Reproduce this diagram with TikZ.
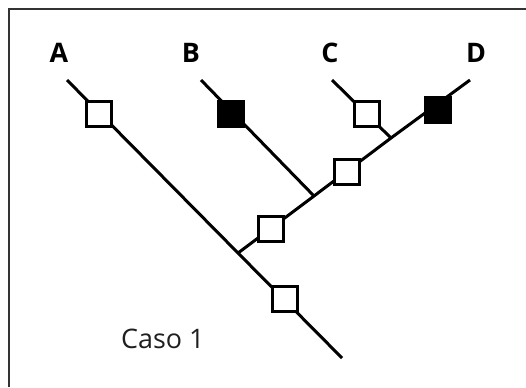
\documentclass[tikz,border=0pt]{standalone}
\usepackage{fontspec}
\setmainfont{Open Sans}
\begin{document}
\begin{tikzpicture}[x=1bp,y=-1bp,
  branch/.style={line width=3bp,black},
  openbox/.style={draw=black,line width=3bp,fill=white,minimum size=25bp,inner sep=0pt,rectangle},
  fullbox/.style={draw=black,line width=3bp,fill=black,minimum size=25bp,inner sep=0pt,rectangle},
  taxon/.style={font=\bfseries\fontsize{27}{27}\selectfont,inner sep=0pt,anchor=base,text=black},
  caption/.style={font=\fontsize{27}{27}\selectfont,inner sep=0pt,anchor=base west,text=black!88}]
\useasboundingbox (0,0) rectangle (526,387);
\draw[line width=2bp,black!80] (526,9) -- (8.5,9) -- (8.5,387);
% junctions and tips
\coordinate (tA) at (67,80);
\coordinate (tB) at (201,80);
\coordinate (tC) at (332,80);
\coordinate (tD) at (470,80);
\coordinate (j1) at (238,253);
\coordinate (j2) at (314,196);
\coordinate (j3) at (391,138);
\coordinate (rt) at (342,358);
% branches
\draw[branch] (tA) -- (j1) -- (rt);
\draw[branch] (j1) -- (j2) -- (j3) -- (tD);
\draw[branch] (tB) -- (j2);
\draw[branch] (tC) -- (j3);
% character boxes
\node[openbox] (bA) at (99,113.5) {};
\node[fullbox] (bB) at (231,113.5) {};
\node[openbox] (bC) at (367,113.5) {};
\node[fullbox] (bD) at (437.5,110) {};
\node[openbox] (bBCD) at (346.5,172) {};
\node[openbox] (bBCDA) at (271,229) {};
\node[openbox] (bR) at (285,299) {};
% labels
\node[taxon] (lA) at (59,62.7) {A};
\node[taxon] (lB) at (191,62.7) {B};
\node[taxon] (lC) at (330,62.7) {C};
\node[taxon] (lD) at (476,62.7) {D};
\node[caption] (cs) at (121,348) {Caso 1};
\end{tikzpicture}
\end{document}
